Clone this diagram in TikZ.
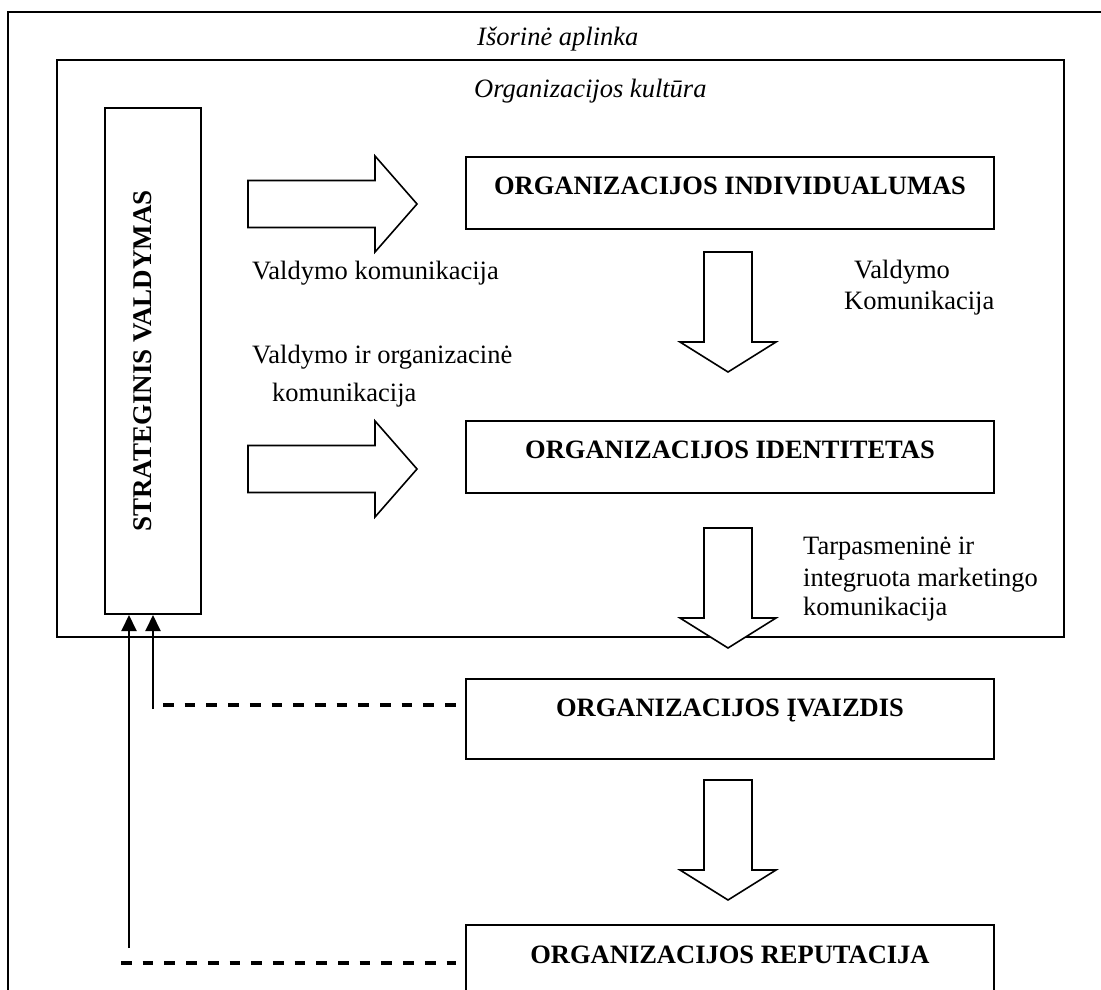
\documentclass[tikz,border=0pt]{standalone}
\usepackage{fontspec}
\setmainfont{Liberation Serif}
\usetikzlibrary{arrows.meta,calc}

\begin{document}
\begin{tikzpicture}[x=1pt,y=-1pt,
  frame/.style={draw, line width=2pt},
  nbox/.style={draw, line width=2pt, inner sep=0pt, minimum width=528pt,
    text height=37pt, anchor=north west,
    font=\fontsize{26.5}{31}\bfseries\selectfont},
  lbl/.style={anchor=base west, inner sep=0pt, font=\fontsize{26.5}{31}\selectfont},
  ttl/.style={anchor=base west, inner sep=0pt, font=\fontsize{26.5}{31}\itshape\selectfont},
  blk/.style={draw, line width=1.6pt, fill=white, line join=miter},
  fb/.style={line width=2pt, -{Triangle[length=16pt,width=15pt]}},
  dsh/.style={line width=4pt, dash pattern=on 10.7pt off 11pt},
  rarrow/.pic={\draw[blk] (0,-23.5) -- (127,-23.5) -- (127,-48) -- (169,0)
      -- (127,48) -- (127,23.5) -- (0,23.5) -- cycle;},
  darrow/.pic={\draw[blk] (-24,0) -- (24,0) -- (24,90) -- (48,90) -- (0,120)
      -- (-48,90) -- (-24,90) -- cycle;}
]
\clip (0,0) rectangle (1101,990);

% environment frames
\draw[frame] (8,12) rectangle (1112,1004);
\draw[frame] (57,60) rectangle (1064,637);
\node[ttl] (envlbl) at (477,46) {Išorinė aplinka};
\node[ttl] (cultlbl) at (474,98) {Organizacijos kultūra};

% strategic management column
\node[draw, line width=2pt, rotate=90, inner sep=0pt, minimum width=506pt,
  text height=46pt, text depth=50pt,
  font=\fontsize{27}{31}\bfseries\selectfont] (strat) at (153,361) {STRATEGINIS VALDYMAS};

% main chain
\node[nbox, text depth=35pt] (indiv) at (465,156) {ORGANIZACIJOS INDIVIDUALUMAS};
\node[nbox, text depth=35pt] (ident) at (465,420) {ORGANIZACIJOS IDENTITETAS};
\node[nbox, text depth=43pt] (ivaizd) at (465,678) {ORGANIZACIJOS ĮVAIZDIS};
\node[nbox, text height=38pt, text depth=60pt] (reput) at (465,924) {ORGANIZACIJOS REPUTACIJA};

% block arrows
\pic at (248,204) {rarrow};
\pic at (248,469) {rarrow};
\pic at (728,252) {darrow};
\pic at (728,528) {darrow};
\pic at (728,780) {darrow};

% arrow labels
\node[lbl] (l1) at (252,279) {Valdymo komunikacija};
\node[lbl] (l2a) at (252,363) {Valdymo ir organizacinė};
\node[lbl] (l2b) at (272,401) {komunikacija};
\node[lbl] (l3a) at (854,278) {Valdymo};
\node[lbl] (l3b) at (844,309) {Komunikacija};
\node[lbl] (l4a) at (803,554) {Tarpasmeninė ir};
\node[lbl] (l4b) at (803,586) {integruota marketingo};
\node[lbl] (l4c) at (803,615) {komunikacija};

% feedback to strategic management
\coordinate (f1) at (153,709);
\coordinate (f2) at (129,948);
\draw[fb] (f1) -- (f1 |- strat.west);
\draw[fb] (f2) -- (f2 |- strat.west);
\coordinate (d1) at (163,705);
\coordinate (d2) at (121,963);
\draw[dsh] (d1) -- ($(d1 -| ivaizd.west)+(-9,0)$);
\draw[dsh] (d2) -- ($(d2 -| reput.west)+(-9,0)$);
\end{tikzpicture}
\end{document}
